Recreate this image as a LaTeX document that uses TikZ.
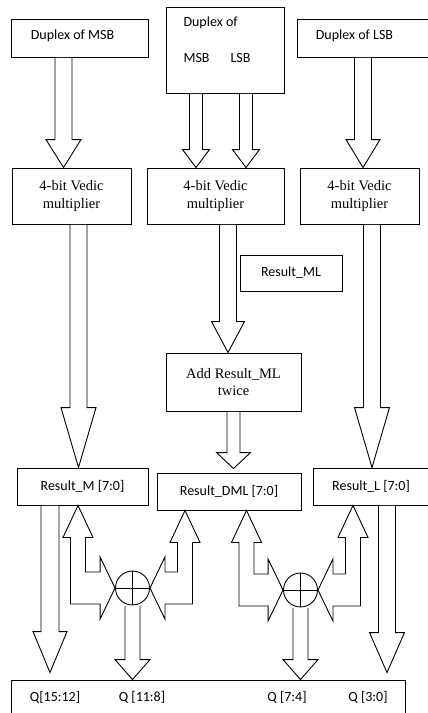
\documentclass[tikz,border=0pt]{standalone}
\usepackage{fontspec}
\setmainfont{Liberation Serif}
\newfontfamily\calibri{Carlito}
\usetikzlibrary{positioning,calc}

% hollow block arrow pointing down: from, to, shaft half width, head half width, head length
\newcommand{\fatdown}[5]{%
  \draw[fat] let \p1=#1, \p2=#2 in
    ({\x1-#3pt},{\y1-0.5pt}) -- ({\x1-#3pt},{\y2+#5pt}) -- ({\x1-#4pt},{\y2+#5pt}) -- (\x1,\y2)
    -- ({\x1+#4pt},{\y2+#5pt}) -- ({\x1+#3pt},{\y2+#5pt}) -- ({\x1+#3pt},{\y1-0.5pt});}

% bent block arrow between an adder and the box above it (1 = left side, -1 = right side)
\newcommand{\bentup}[3]{%
  \draw[fat] let \p1=#1, \p2=#2, \n1={#3} in
    (\p2) -- ({\x2+\n1*15pt},{\y2-32pt}) -- ({\x2+\n1*7.5pt},{\y2-32pt})
    -- ({\x2+\n1*7.5pt},{\y1+16pt}) -- ({\x1-\n1*15pt},{\y1+16pt})
    -- ({\x1-\n1*15pt},{\y1+31pt}) -- (\p1) -- ({\x1-\n1*15pt},{\y1-31pt})
    -- ({\x1-\n1*15pt},{\y1-16pt}) -- ({\x2-\n1*7.5pt},{\y1-16pt})
    -- ({\x2-\n1*7.5pt},{\y2-32pt}) -- ({\x2-\n1*15pt},{\y2-32pt}) -- cycle;}

\begin{document}
\begin{tikzpicture}[
    x=1pt, y=-1pt,
    blockbox/.style={
        draw,
        line width=0.9pt,
        fill=white,
        inner sep=0pt
    },
    sanstext/.style={
        font={\calibri\fontsize{14}{16}\selectfont}
    },
    seriftext/.style={
        font={\fontsize{14.5}{17.5}\selectfont},
        align=center
    },
    fat/.style={
        draw,
        line width=0.9pt,
        fill=white
    },
    sum/.style={
        draw,
        circle,
        line width=0.9pt,
        fill=white,
        minimum size=34pt,
        inner sep=0pt
    }
]

\useasboundingbox (0,0) rectangle (428,713);
\clip (0,0) rectangle (428,713);

% inputs
\node[blockbox, minimum width=137pt, minimum height=38pt] (dmsb) at (79.5,38) {};
\node[sanstext] at (72.5,36) {Duplex of MSB};
\node[blockbox, minimum width=118pt, minimum height=86pt] (dmid) at (225,50) {};
\node[sanstext, anchor=west] at (180,23) {Duplex of};
\node[sanstext, anchor=west] at (180,58) {MSB};
\node[sanstext, anchor=west] at (227,58) {LSB};
\node[blockbox, minimum width=140pt, minimum height=38pt] (dlsb) at (367,38) {};
\node[sanstext] at (354.5,36) {Duplex of LSB};

% multipliers
\node[blockbox, seriftext, minimum width=119pt, minimum height=56pt] (vm) at (71.5,196) {4-bit Vedic\\multiplier};
\node[blockbox, seriftext, minimum width=137pt, minimum height=56pt] (vml) at (215.5,196) {4-bit Vedic\\multiplier};
\node[blockbox, seriftext, minimum width=119pt, minimum height=56pt] (vl) at (359.5,196) {4-bit Vedic\\multiplier};

\node[blockbox, sanstext, minimum width=102pt, minimum height=36pt] (rml) at (291,273) {Result\_ML};
\node[blockbox, seriftext, minimum width=135pt, minimum height=58pt] (addml) at (233.5,382) {Add Result\_ML\\twice};

% partial results
\node[blockbox, sanstext, minimum width=131pt, minimum height=37pt] (resm) at (82.5,486.5) {Result\_M [7:0]};
\node[blockbox, sanstext, minimum width=144pt, minimum height=37pt] (resd) at (229,491.5) {Result\_DML [7:0]};
\node[blockbox, minimum width=124pt, minimum height=37pt] (resl) at (375,486.5) {};
\node[sanstext] at (371,486) {Result\_L [7:0]};

% output
\node[blockbox, minimum width=394pt, minimum height=60pt] (qbox) at (208,710) {};
\node[sanstext] (q1) at (55,697) {Q[15:12]};
\node[sanstext] (q2) at (142,697) {Q [11:8]};
\node[sanstext] (q3) at (287,697) {Q [7:4]};
\node[sanstext] (q4) at (368,697) {Q [3:0]};

% adders
\node[sum] (add1) at (132.5,588) {};
\node[sum] (add2) at (300.5,590) {};

\fatdown{([xshift=-16pt]dmsb.south)}{(vm.north)}{8.5}{17.5}{28}
\fatdown{([xshift=-29pt]dmid.south)}{(vml.north)}{6.5}{13.5}{18}
\fatdown{([xshift=21pt]dmid.south)}{(vml.north)}{6.5}{13.5}{18}
\fatdown{([xshift=-4pt]dlsb.south)}{(vl.north)}{8.5}{17}{28}

\fatdown{([xshift=7pt]vm.south)}{(resm.north)}{8.5}{17.5}{60}
\fatdown{([xshift=12.5pt]vml.south)}{(addml.north)}{8.5}{16.5}{31}
\fatdown{([xshift=12.5pt]vl.south)}{(resl.north)}{8.5}{17.5}{60}
\fatdown{(addml.south)}{([yshift=4pt]resd.north)}{6.5}{17}{16}

\fatdown{([xshift=-32.5pt]resm.south)}{([yshift=7pt]qbox.north)}{9}{17}{41}
\fatdown{([xshift=12pt]resl.south)}{([yshift=7pt]qbox.north)}{8.5}{17.5}{40}
\fatdown{(add1.south)}{(qbox.north)}{7.5}{17.5}{20}
\fatdown{(add2.south)}{(qbox.north)}{7.5}{17.5}{20}

\bentup{(add1.west)}{([xshift=-4.5pt]resm.south)}{1}
\bentup{(add1.east)}{([xshift=-44pt]resd.south)}{-1}
\bentup{(add2.west)}{([xshift=17.5pt]resd.south)}{1}
\bentup{(add2.east)}{([xshift=-22pt]resl.south)}{-1}

\draw[line width=0.9pt] (add1.north) -- (add1.south) (add1.west) -- (add1.east);
\draw[line width=0.9pt] (add2.north) -- (add2.south) (add2.west) -- (add2.east);

\end{tikzpicture}
\end{document}
